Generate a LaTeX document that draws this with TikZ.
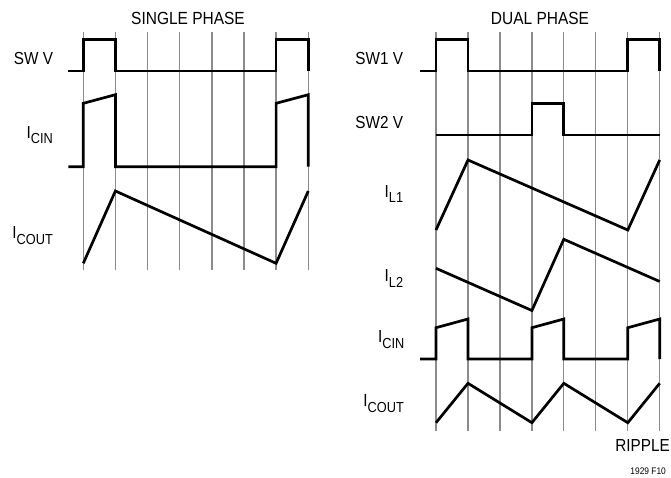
\documentclass[tikz,border=0pt]{standalone}
\usepackage{fontspec}
\setmainfont{Liberation Sans}[FakeStretch=0.88]
\newcommand{\lowsub}[1]{\raisebox{-5.5pt}{\fontsize{14.5}{14.5}\selectfont #1}}
\begin{document}
\begin{tikzpicture}[x=1pt,y=-1pt,
  wave/.style={line width=2.7pt, line join=miter},
  gridline/.style={line width=1.3pt, draw=black!45},
  lbl/.style={anchor=base east, inner sep=0pt, font=\fontsize{17.4}{17.4}\selectfont},
  ttl/.style={anchor=base, inner sep=0pt, font=\fontsize{17.6}{17.6}\selectfont}]
\useasboundingbox (0,0) rectangle (671,477);
% grid lines
\foreach \x in {83.3,115.4,147.6,179.7,211.9,244.0,276.1,308.3}
  \draw[gridline] (\x,31.7) -- (\x,270);
\foreach \x in {436,468,499.9,531.9,563.8,595.8,627.8,659.7}
  \draw[gridline] (\x,31.7) -- (\x,431);
% titles
\node[ttl] (t1) at (188,24.3) {SINGLE PHASE};
\node[ttl] (t2) at (540,24.3) {DUAL PHASE};
% left labels
\node[lbl] (swv) at (53.3,64.4) {SW V};
\node[lbl] (icinl) at (53,138.3) {I\lowsub{CIN}};
\node[lbl] (icoutl) at (53,238.7) {I\lowsub{COUT}};
% right labels
\node[lbl] (sw1) at (403.3,64.4) {SW1 V};
\node[lbl] (sw2) at (403.3,128.3) {SW2 V};
\node[lbl] (il1) at (403.3,197.3) {I\lowsub{L1}};
\node[lbl] (il2) at (403.3,281.7) {I\lowsub{L2}};
\node[lbl] (icinr) at (404.5,342.7) {I\lowsub{CIN}};
\node[lbl] (icoutr) at (404,406.5) {I\lowsub{COUT}};
\node[lbl] (rip) at (670,451) {RIPPLE};
\node[anchor=base east, inner sep=0pt, font=\fontsize{9.5}{9.5}\selectfont] (fig) at (666,474.3) {1929 F10};
% left waveforms
\draw[wave] (68.3,71) -- (83.3,71) -- (83.3,39.3) -- (115.4,39.3) -- (115.4,71) -- (276.1,71) -- (276.1,39.3) -- (308.3,39.3) -- (308.3,71);
\draw[wave] (68.3,166.7) -- (83.3,166.7) -- (83.3,103.3) -- (115.4,94.7) -- (115.4,166.7) -- (276.1,166.7) -- (276.1,103.3) -- (308.3,94.7) -- (308.3,166.7);
\draw[wave] (83.3,263.3) -- (115.4,191) -- (276.1,263.3) -- (308.3,191);
% right waveforms
\draw[wave] (420,71) -- (436,71) -- (436,39.3) -- (468,39.3) -- (468,71) -- (627.8,71) -- (627.8,39.3) -- (659.7,39.3) -- (659.7,71);
\draw[wave] (436,135) -- (531.9,135) -- (531.9,103.3) -- (563.8,103.3) -- (563.8,135) -- (659.7,135);
\draw[wave] (436,230) -- (468,160) -- (627.8,230) -- (659.7,160);
\draw[wave] (436,268.3) -- (531.9,310.5) -- (563.8,239.3) -- (659.7,281.5);
\draw[wave] (420,359) -- (436,359) -- (436,327.7) -- (468,319) -- (468,359) -- (531.9,359) -- (531.9,327.7) -- (563.8,319) -- (563.8,359) -- (627.8,359) -- (627.8,327.7) -- (659.7,319) -- (659.7,359);
\draw[wave] (436,422.7) -- (468,383.3) -- (531.9,422.7) -- (563.8,383.3) -- (627.8,422.7) -- (659.7,383.3);
\end{tikzpicture}
\end{document}
